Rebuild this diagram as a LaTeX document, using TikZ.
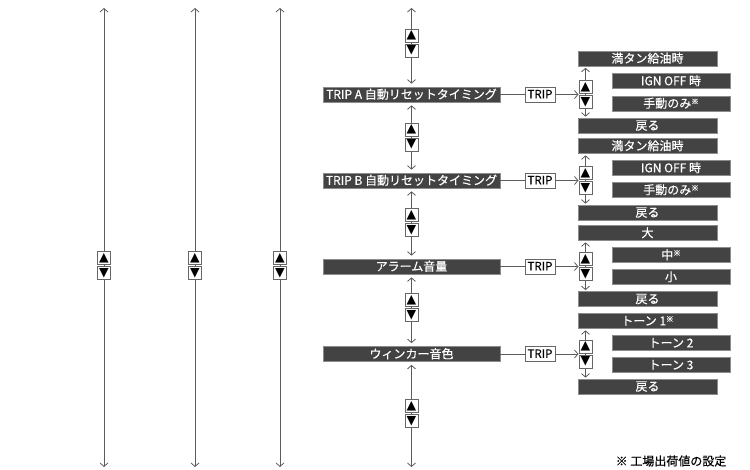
\documentclass[tikz,border=0pt]{standalone}
\usepackage{fontspec}
\setmainfont{Noto Sans CJK JP}[FakeBold=0.35]
\newfontfamily\symf{DejaVu Sans}
\usetikzlibrary{arrows.meta}
\definecolor{boxfill}{HTML}{434343}
\definecolor{boxedge}{HTML}{8C8C8C}
\definecolor{linec}{HTML}{5C5C5C}
\definecolor{btnedge}{HTML}{666666}
\newcommand\kome{\raisebox{3.5pt}{\fontsize{7.5}{7.5}\selectfont ※}}
\tikzset{
  tip/.tip={Straight Barb[length=3.5pt,width=8pt]},
  conn/.style={draw=linec, line width=0.8pt},
  dbl/.style={conn, tip-tip, shorten <=3pt, shorten >=3pt},
  dblr/.style={conn, tip-tip, shorten <=1.5pt, shorten >=1pt},
  dbll/.style={conn, tip-tip},
  darkbox/.style={draw=boxedge, fill=boxfill, line width=0.7pt, text=white, inner sep=0pt,
    minimum height=15pt, text height=9.6pt, text depth=1pt,
    font=\fontsize{12}{13}\selectfont},
  mainbox/.style={darkbox, minimum width=177pt},
  fullitem/.style={darkbox, minimum width=139pt},
  inditem/.style={darkbox, minimum width=118pt},
  tripbox/.style={draw=btnedge, fill=white, line width=0.7pt, text=black, inner sep=0pt,
    minimum width=30pt, minimum height=15pt, text height=8.8pt, text depth=1pt,
    font=\fontsize{11.5}{13}\selectfont},
  btn/.style={draw=btnedge, fill=white, line width=0.7pt, inner sep=0pt, minimum size=13pt,
    font=\symf\fontsize{12.5}{12.5}\selectfont},
}
\newcommand\btnpair[3]{%
  \node[btn] (#1u) at (#2,#3-7.5) {▲};
  \node[btn] (#1d) at (#2,#3+7.5) {▼};}
\begin{document}
\begin{tikzpicture}[x=1pt,y=-1pt]
\useasboundingbox (0,0) rectangle (750,470);
% left plain lines
\foreach \x/\n in {104/a,195/b,280/c} {
  \coordinate (t\n) at (\x,8);
  \coordinate (b\n) at (\x,467);
  \draw[dbll] (t\n) -- (b\n);
  \btnpair{l\n}{\x}{265.5}
}
% groups
\foreach \g/\c/\mtext/\ya/\yb/\yc/\yd/\ta/\tb/\tc in {
  1/94.5/{TRIP A 自動リセットタイミング}/58.5/81/103.5/125.5/{満タン給油時}/{IGN OFF 時}/{手動のみ\kome},
  2/180.5/{TRIP B 自動リセットタイミング}/146/168/190/212.5/{満タン給油時}/{IGN OFF 時}/{手動のみ\kome},
  3/266.5/{アラーム音量}/233/255/277/299/{大}/{中\kome}/{小},
  4/354/{ウィンカー音色}/321/343/365/386.5/{トーン 1\kome}/{トーン 2}/{トーン 3}} {
  \node[mainbox] (m\g) at (411.5,\c) {\mtext};
  \node[tripbox] (tr\g) at (540,\c) {TRIP};
  \node[fullitem] (ia\g) at (647.5,\ya) {\ta};
  \node[inditem] (ib\g) at (671,\yb) {\tb};
  \node[inditem] (ic\g) at (671,\yc) {\tc};
  \node[fullitem] (id\g) at (647.5,\yd) {戻る};
  \coordinate (rin\g) at (578.5,\c);
  \coordinate (rx\g) at (585.5,\c);
  \draw[conn] (m\g) -- (tr\g);
  \draw[conn, -tip] (tr\g) -- (rin\g);
  \draw[dblr] (ia\g.south -| rx\g) -- (id\g.north -| rx\g);
  \btnpair{r\g}{585.5}{\c}
}
% main column
\coordinate (mt) at (411.5,5);
\coordinate (mb) at (411.5,470);
\draw[dbl] (mt) -- (m1);
\draw[dbl] (m1) -- (m2);
\draw[dbl] (m2) -- (m3);
\draw[dbl] (m3) -- (m4);
\draw[dbl] (m4) -- (mb);
\btnpair{ma}{411.5}{43}
\btnpair{mb}{411.5}{137}
\btnpair{mc}{411.5}{222.5}
\btnpair{md}{411.5}{307.5}
\btnpair{me}{411.5}{413.5}
% footnote
\node[font=\fontsize{12}{13}\selectfont, inner sep=0pt] (note) at (671,461) {※ 工場出荷値の設定};
\end{tikzpicture}
\end{document}
